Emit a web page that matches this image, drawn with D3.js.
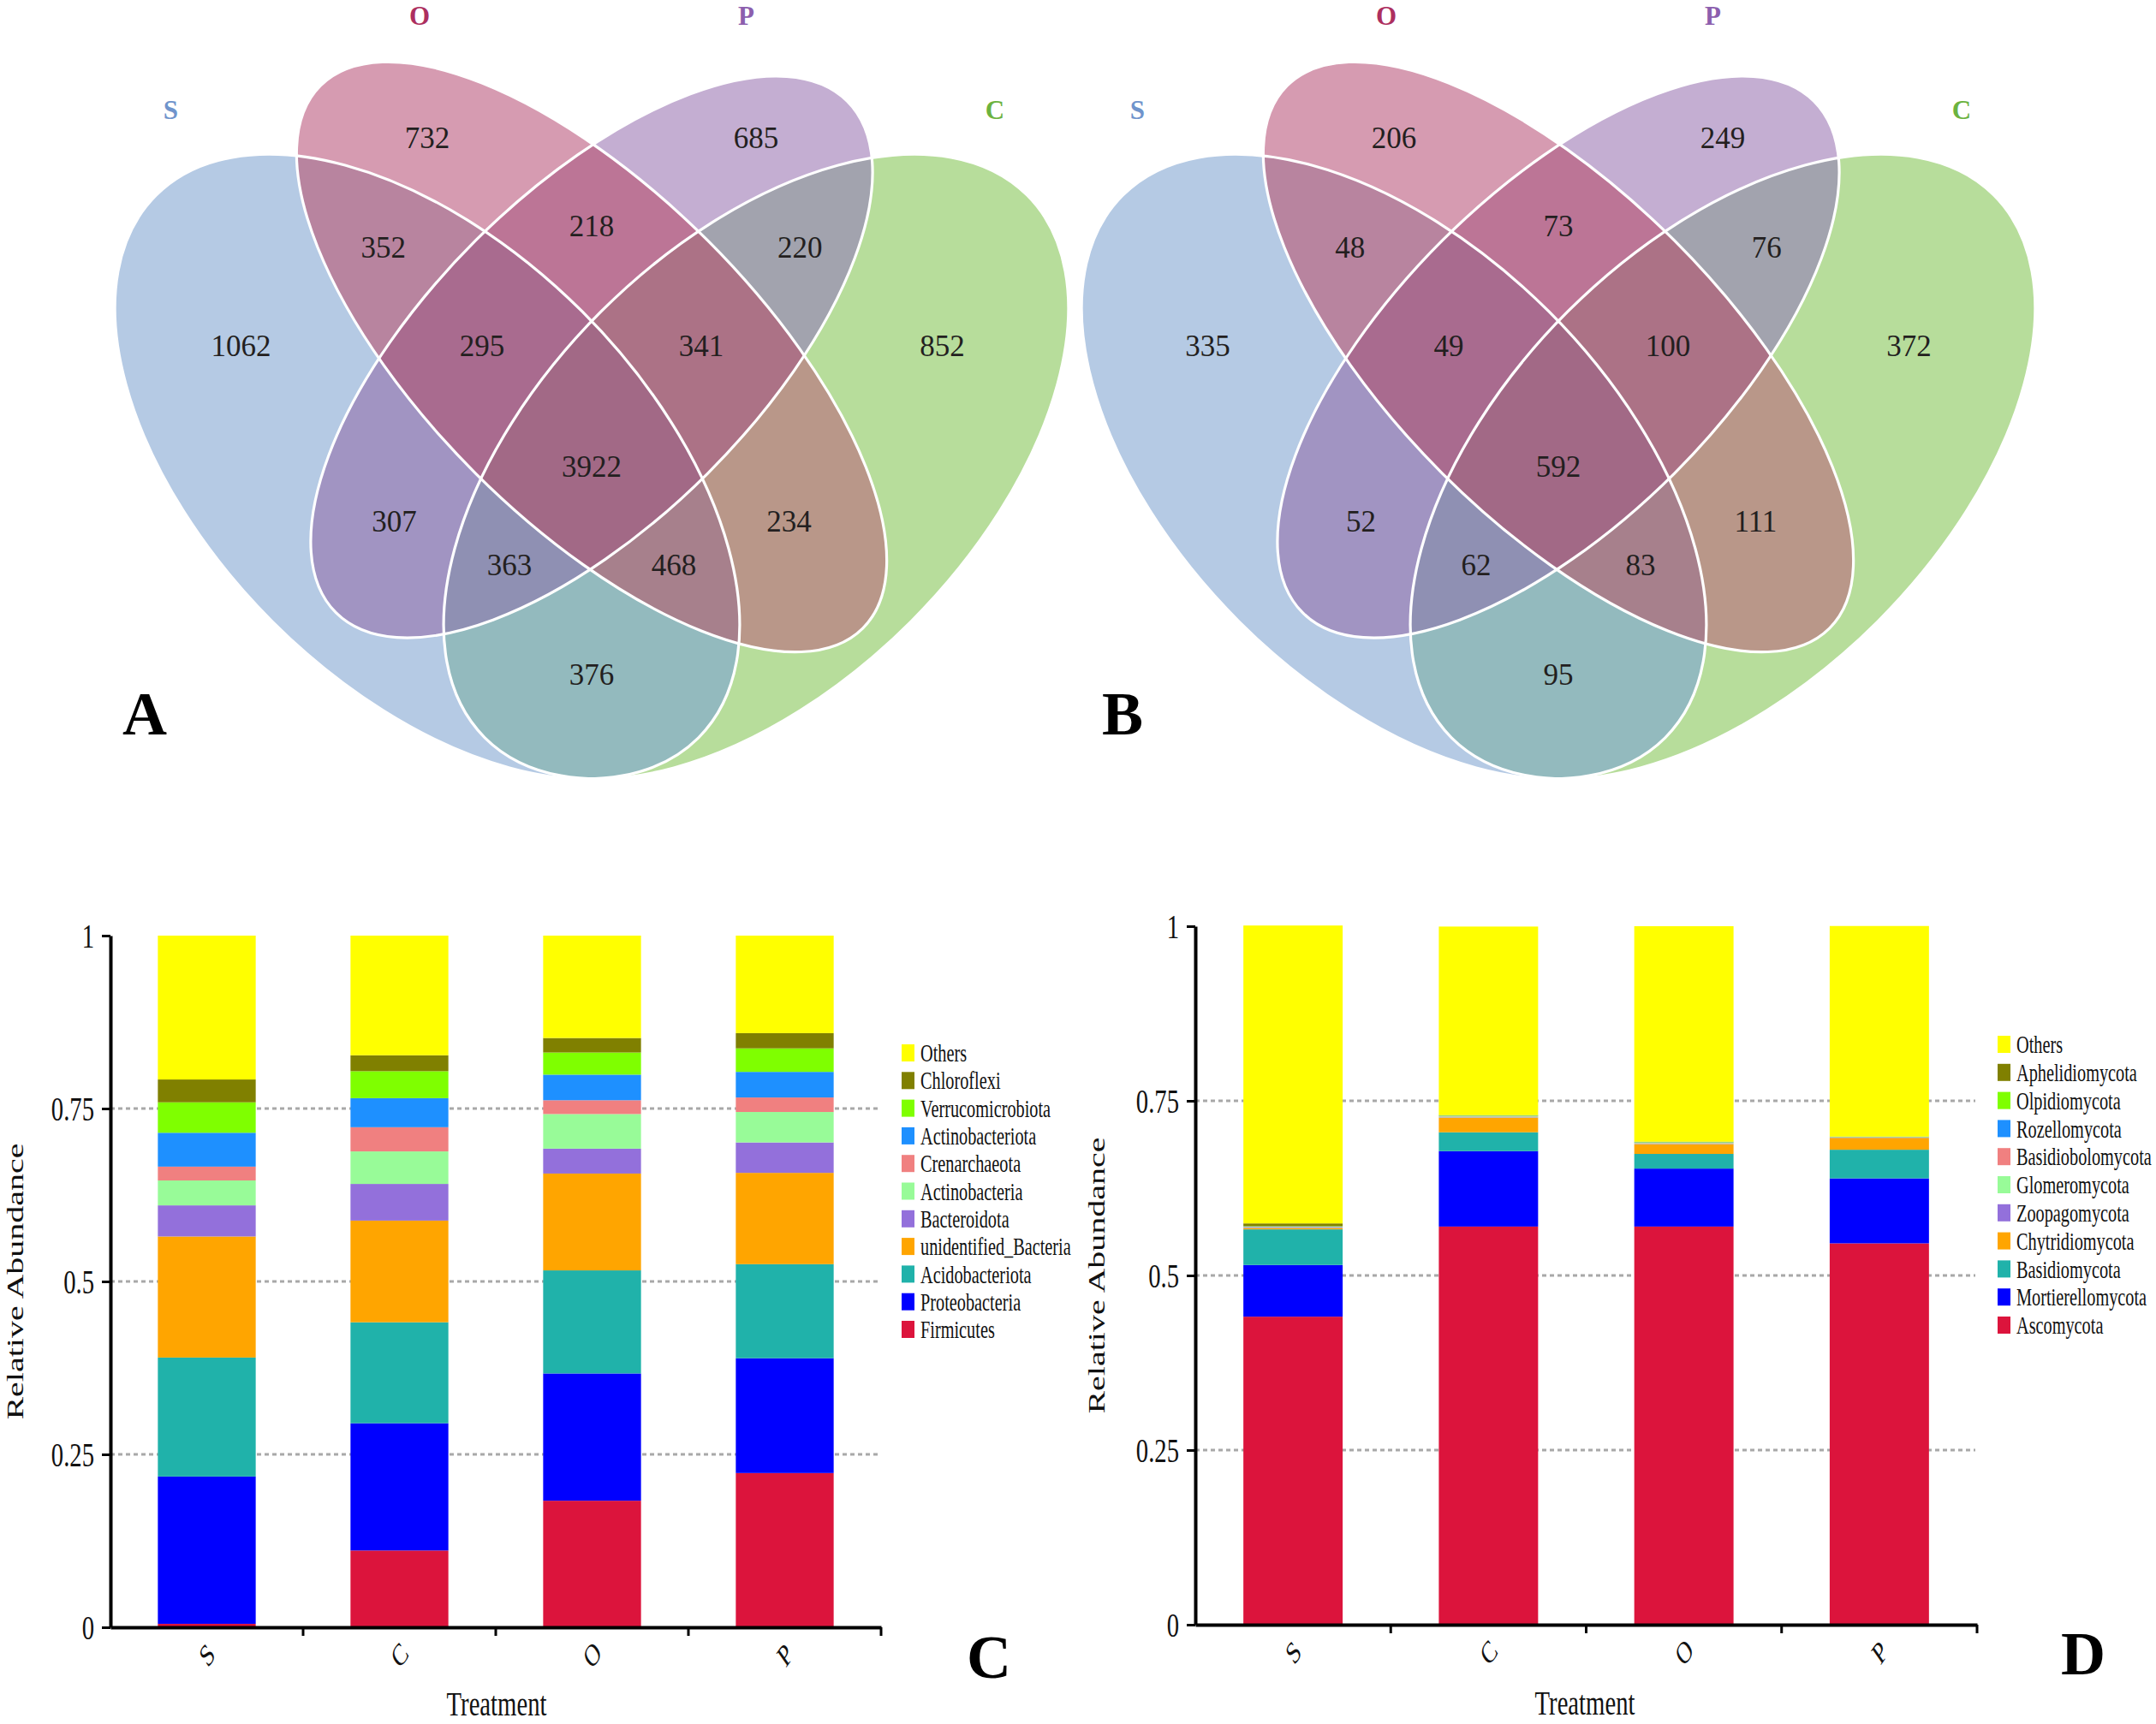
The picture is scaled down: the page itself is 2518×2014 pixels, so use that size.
<!DOCTYPE html>
<html>
<head>
<meta charset="utf-8">
<script src="https://cdn.jsdelivr.net/npm/d3@7"></script>
<style>
  body { margin: 0; background: #fff; }
  text { font-family: "Liberation Serif", "Times New Roman", serif; }
</style>
</head>
<body>
<div id="container"></div>
<script>
(function(){

    const width = 2518, height = 2014;
    const squeeze = 0.7; // the bar panels are horizontally compressed

    // ============================================================ VENN DATA
    // region keys follow the VennDiagram quad order (a1 .. a15)
    const regionKeys = ["O","OP","P","SO","SOP","SOPC","OPC","PC","S","SP","SPC","SC","SOC","OC","C"];
    const vennBacteria = [732, 218, 685, 352, 295, 3922, 341, 220, 1062, 307, 363, 376, 468, 234, 852];
    const vennFungi    = [206,  73, 249,  48,  49,  592, 100,  76,  335,  52,  62,  95,  83, 111, 372];
    const regionColors = ["#d69bb1","#bc7596","#c4aed2","#b8849f","#a96b8f","#a26986","#ac7286","#a2a3ae",
                          "#b5cae4","#a194c2","#8f90b3","#93babe","#a7808c","#b99789","#b7dd9b"];
    const setNames  = ["S", "O", "P", "C"];
    const setColors = ["#6f94cc", "#ad2f5f", "#8c5fae", "#6cb33f"];

    // ============================================================ BAR DATA
    const treatments = ["S", "C", "O", "P"];

    // bottom -> top
    const bacteriaPhyla  = ["Firmicutes","Proteobacteria","Acidobacteriota","unidentified_Bacteria","Bacteroidota",
                            "Actinobacteria","Crenarchaeota","Actinobacteriota","Verrucomicrobiota","Chloroflexi","Others"];
    const bacteriaS = [0.005, 0.213, 0.172, 0.175, 0.045, 0.036, 0.020, 0.049, 0.044, 0.033, 0.208];
    const bacteriaC = [0.111, 0.184, 0.146, 0.147, 0.053, 0.047, 0.035, 0.042, 0.039, 0.023, 0.173];
    const bacteriaO = [0.183, 0.184, 0.149, 0.140, 0.036, 0.050, 0.020, 0.037, 0.032, 0.021, 0.148];
    const bacteriaP = [0.223, 0.166, 0.136, 0.132, 0.044, 0.044, 0.021, 0.037, 0.034, 0.022, 0.141];

    const fungiPhyla = ["Ascomycota","Mortierellomycota","Basidiomycota","Chytridiomycota","Zoopagomycota",
                        "Glomeromycota","Basidiobolomycota","Rozellomycota","Olpidiomycota","Aphelidiomycota","Others"];
    const fungiS = [0.441, 0.074, 0.051, 0.002, 0.0005, 0.0005, 0.0005, 0.0005, 0.0005, 0.004, 0.4265];
    const fungiC = [0.570, 0.108, 0.027, 0.021, 0.0005, 0.001, 0.0005, 0.0005, 0.0005, 0.0005, 0.270];
    const fungiO = [0.570, 0.083, 0.021, 0.014, 0.0005, 0.001, 0.0005, 0.0005, 0.0005, 0.0005, 0.3085];
    const fungiP = [0.546, 0.093, 0.041, 0.017, 0.0003, 0.0003, 0.0003, 0.0003, 0.0003, 0.0003, 0.3015];

    // same palette for both charts, bottom -> top
    const phylaColors = ["#dc143c","#0000ff","#20b2aa","#ffa500","#9370db",
                         "#98fb98","#f08080","#1e90ff","#7fff00","#808000","#ffff00"];
    const yTicks = [0, 0.25, 0.5, 0.75, 1];

    // ============================================================ LAYOUT
    // VennDiagram quad geometry, in npc units
    const ellipses = [
        {set: "S", cx: 0.35, cy: 0.47, a: 0.35, b: 0.20, rot:  45},
        {set: "O", cx: 0.50, cy: 0.57, a: 0.35, b: 0.15, rot:  45},
        {set: "P", cx: 0.50, cy: 0.57, a: 0.33, b: 0.15, rot: -45},
        {set: "C", cx: 0.65, cy: 0.47, a: 0.35, b: 0.20, rot: -45}
    ];
    const regionPos = [[0.35,0.77],[0.5,0.69],[0.65,0.77],[0.31,0.67],[0.4,0.58],[0.5,0.47],[0.6,0.58],
                       [0.69,0.67],[0.18,0.58],[0.32,0.42],[0.425,0.38],[0.5,0.28],[0.575,0.38],[0.68,0.42],[0.82,0.58]];
    const catPos = [[0.116,0.796],[0.343,0.8815],[0.641,0.8815],[0.868,0.796]];

    const svg = d3.select("#container").append("svg")
        .attr("width", width)
        .attr("height", height)
        .style("display", "block");
    svg.append("rect").attr("width", width).attr("height", height).attr("fill", "#fff");
    const defs = svg.append("defs");

    drawVenn("va", vennBacteria, 51);
    drawVenn("vb", vennFungi, 1180);

    panelLetter("A", 143, 858);
    panelLetter("B", 1287, 858);

    drawBars({
        phyla: bacteriaPhyla,
        values: [bacteriaS, bacteriaC, bacteriaO, bacteriaP],
        x: [129, 1029], y: [1901, 1093], gridEnd: 1025,
        legendX: 1053, legendY: 1230, legendStep: 32.3,
        yTitle: [17, 1497], xTitle: [580, 2004]
    });
    drawBars({
        phyla: fungiPhyla,
        values: [fungiS, fungiC, fungiO, fungiP],
        x: [1396, 2309], y: [1898, 1082], gridEnd: 2307,
        legendX: 2333, legendY: 1220, legendStep: 32.8,
        yTitle: [1280, 1490], xTitle: [1851, 2003]
    });

    panelLetter("C", 1129, 1960);
    panelLetter("D", 2407, 1956);

    // ============================================================ VENN
    function drawVenn(id, counts, x0) {
        const xs = d3.scaleLinear([0, 1], [x0, x0 + 1280]);
        const ys = d3.scaleLinear([0, 1], [1146.6, -133.4]);
        const place = sel => sel
            .attr("rx", e => xs(e.a) - xs(0))
            .attr("ry", e => ys(0) - ys(e.b))
            .attr("transform", e => `translate(${xs(e.cx)},${ys(e.cy)}) rotate(${e.rot})`);
        const bySet = new Map(ellipses.map(e => [e.set, e]));

        ellipses.forEach(e => {
            defs.append("clipPath").attr("id", `${id}-${e.set}`)
                .append("ellipse").datum(e).call(place);
        });

        const g = svg.append("g");
        // paint regions from fewest to most sets, each clipped by its sets
        const order = d3.range(regionKeys.length)
            .sort((i, j) => d3.ascending(regionKeys[i].length, regionKeys[j].length));
        order.forEach(i => {
            const sets = regionKeys[i].split("");
            let node = g;
            sets.slice(0, -1).forEach(s => {
                node = node.append("g").attr("clip-path", `url(#${id}-${s})`);
            });
            node.append("ellipse").datum(bySet.get(sets[sets.length - 1]))
                .call(place)
                .attr("fill", regionColors[i]);
        });

        g.selectAll("ellipse.outline")
            .data(ellipses)
            .join("ellipse")
            .attr("class", "outline")
            .call(place)
            .attr("fill", "none")
            .attr("stroke", "#fff")
            .attr("stroke-width", 3.2);

        g.selectAll("text.count")
            .data(counts)
            .join("text")
            .attr("class", "count")
            .attr("x", (d, i) => xs(regionPos[i][0]))
            .attr("y", (d, i) => ys(regionPos[i][1]))
            .attr("dy", "0.35em")
            .attr("text-anchor", "middle")
            .attr("font-size", 35)
            .attr("fill", "#231f20")
            .text(d => d);

        g.selectAll("text.cat")
            .data(setNames)
            .join("text")
            .attr("class", "cat")
            .attr("x", (d, i) => xs(catPos[i][0]))
            .attr("y", (d, i) => ys(catPos[i][1]))
            .attr("dy", "0.35em")
            .attr("text-anchor", "middle")
            .attr("font-size", 31)
            .attr("font-weight", "bold")
            .attr("fill", (d, i) => setColors[i])
            .text(d => d);
    }

    function panelLetter(t, x, y) {
        svg.append("text")
            .attr("x", x).attr("y", y)
            .attr("font-size", 72)
            .attr("font-weight", "bold")
            .attr("fill", "#000")
            .text(t);
    }

    // ============================================================ BARS
    function drawBars(o) {
        const rows = treatments.map((t, i) => {
            const r = {treatment: t};
            o.phyla.forEach((p, j) => r[p] = o.values[i][j]);
            return r;
        });
        const series = d3.stack().keys(o.phyla)(rows);

        const x = d3.scaleBand()
            .domain(treatments)
            .range(o.x)
            .paddingInner(0.492)
            .paddingOuter(0.246);
        const y = d3.scaleLinear([0, 1], o.y);
        const color = d3.scaleOrdinal(o.phyla, phylaColors);

        const g = svg.append("g");

        // dashed grid
        g.append("g")
            .selectAll("line")
            .data(yTicks.filter(d => d > 0 && d < 1))
            .join("line")
            .attr("x1", o.x[0]).attr("x2", o.gridEnd)
            .attr("y1", d => y(d)).attr("y2", d => y(d))
            .attr("stroke", "#a8a8a8")
            .attr("stroke-width", 3)
            .attr("stroke-dasharray", "5,4");

        g.append("g")
            .selectAll("g")
            .data(series)
            .join("g")
            .attr("fill", d => color(d.key))
            .selectAll("rect")
            .data(d => d)
            .join("rect")
            .attr("x", d => x(d.data.treatment))
            .attr("width", x.bandwidth())
            .attr("y", d => y(d[1]))
            .attr("height", d => y(d[0]) - y(d[1]));

        // y axis
        const ya = g.append("g")
            .attr("transform", `translate(${o.x[0]},0)`)
            .call(d3.axisLeft(y).tickValues(yTicks).tickSize(10).tickSizeOuter(0)
                .tickFormat(d3.format("~g")));
        ya.select(".domain").attr("stroke-width", 4);
        ya.selectAll(".tick line").attr("stroke-width", 3);
        ya.selectAll(".tick text")
            .attr("font-family", "Liberation Serif")
            .attr("font-size", 41)
            .attr("fill", "#111")
            .attr("x", -19 / squeeze)
            .attr("transform", `scale(${squeeze},1)`);

        // x axis
        const xa = g.append("g")
            .attr("transform", `translate(0,${o.y[0]})`)
            .call(d3.axisBottom(x).tickSize(0).tickSizeOuter(0));
        xa.select(".domain").attr("stroke-width", 4);
        xa.selectAll(".tick text")
            .attr("font-family", "Liberation Serif")
            .attr("font-size", 36)
            .attr("fill", "#111")
            .attr("y", 0)
            .attr("dy", "0.35em")
            .attr("text-anchor", "middle")
            .attr("transform", `translate(0,32) scale(${squeeze},1) rotate(-45)`);
        const step = x.step();
        xa.append("g")
            .selectAll("line")
            .data(treatments)
            .join("line")
            .attr("x1", d => x(d) + x.bandwidth() + step * x.paddingInner() / 2)
            .attr("x2", d => x(d) + x.bandwidth() + step * x.paddingInner() / 2)
            .attr("y1", 0).attr("y2", 10)
            .attr("stroke", "#000")
            .attr("stroke-width", 3);

        // titles
        g.append("text")
            .attr("transform", `translate(${o.yTitle[0]},${o.yTitle[1]}) scale(${squeeze},1) rotate(-90)`)
            .attr("text-anchor", "middle")
            .attr("dy", "0.35em")
            .attr("font-size", 40)
            .attr("fill", "#111")
            .text("Relative Abundance");
        g.append("text")
            .attr("transform", `translate(${o.xTitle[0]},${o.xTitle[1]}) scale(${squeeze},1)`)
            .attr("text-anchor", "middle")
            .attr("font-size", 41)
            .attr("fill", "#111")
            .text("Treatment");

        // legend, top item is the top of the stack
        const legend = g.append("g")
            .selectAll("g")
            .data(o.phyla.slice().reverse())
            .join("g")
            .attr("transform", (d, i) => `translate(${o.legendX},${o.legendY + i * o.legendStep})`);
        legend.append("rect")
            .attr("y", -10)
            .attr("width", 15)
            .attr("height", 20)
            .attr("fill", d => color(d));
        legend.append("text")
            .attr("transform", `translate(22,0) scale(${squeeze},1)`)
            .attr("dy", "0.35em")
            .attr("font-size", 29)
            .attr("fill", "#111")
            .text(d => d);
    }

})();
</script>
</body>
</html>
